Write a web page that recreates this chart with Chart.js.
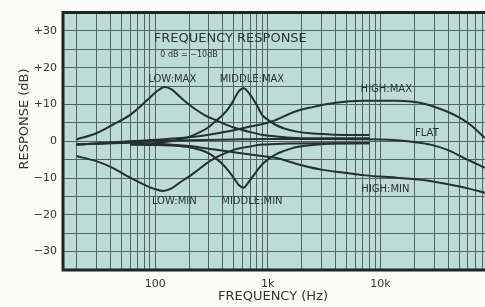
<!DOCTYPE html>
<html>
<head>
<meta charset="utf-8">
<script src="https://cdn.jsdelivr.net/npm/chart.js@4.4.0/dist/chart.umd.min.js"></script>
<style>
  html, body { margin: 0; padding: 0; background: #fbfbf8; }
</style>
</head>
<body>
<canvas id="myChart" width="485" height="307"></canvas>
<script>
// values (Hz, dB)
const lowMaxHz = [20, 30, 42, 60, 85, 100, 122, 140, 166, 200, 233, 280, 342, 420, 515, 700, 890, 1200, 1770, 3000, 8000];
const lowMaxDb = [0.5, 2.2, 4.5, 7.2, 11.2, 13.2, 14.8, 14.1, 12.1, 10.0, 8.5, 7.0, 5.8, 4.6, 3.6, 2.5, 1.8, 1.3, 0.9, 0.8, 0.8];

const lowMinHz = [20, 30, 42, 60, 84, 100, 118, 140, 166, 200, 233, 280, 342, 420, 515, 700, 890, 1500, 3000, 8000];
const lowMinDb = [-4.0, -5.4, -7.2, -9.9, -12.1, -13.0, -13.5, -12.8, -11.2, -9.6, -8.1, -6.2, -4.5, -3.2, -2.2, -1.4, -0.9, -0.6, -0.5, -0.5];

const midMaxHz = [60, 100, 150, 200, 250, 300, 342, 400, 450, 500, 550, 610, 700, 800, 890, 1000, 1170, 1400, 1770, 2500, 4000, 8000];
const midMaxDb = [-0.9, -0.5, 0.2, 1.2, 2.5, 3.9, 5.4, 7.2, 9.0, 11.3, 13.5, 14.4, 12.6, 9.8, 7.2, 5.9, 4.5, 3.5, 2.7, 2.1, 1.8, 1.7];

const midMinHz = [60, 100, 150, 200, 250, 300, 342, 400, 450, 500, 550, 610, 680, 780, 890, 1000, 1170, 1400, 1770, 2500, 4000, 8000];
const midMinDb = [-0.9, -1.0, -1.2, -1.6, -2.3, -3.3, -4.5, -6.3, -8.1, -10.0, -11.8, -12.6, -11.0, -8.5, -6.3, -5.0, -3.6, -2.6, -1.6, -1.0, -0.6, -0.5];

const flatHz = [20, 30, 60, 100, 200, 500, 1000, 3600, 10000, 14000, 20000, 28000, 40000, 55000, 70000, 85000];
const flatDb = [-0.9, -0.6, -0.1, 0.1, 0.3, 0.5, 0.6, 0.6, 0.5, 0.3, -0.2, -0.9, -2.4, -4.5, -6.0, -7.2];

const highMaxHz = [20, 30, 60, 100, 200, 300, 500, 700, 1090, 1760, 2500, 4000, 7100, 14000, 24000, 39000, 50000, 63000, 85000];
const highMaxDb = [-0.9, -0.6, 0.0, 0.4, 1.1, 1.8, 3.0, 4.0, 5.4, 8.1, 9.3, 10.5, 11.0, 11.0, 10.3, 8.1, 6.5, 4.5, 0.9];

const highMinHz = [20, 30, 60, 100, 200, 300, 500, 700, 1000, 1170, 2000, 3000, 5000, 7000, 10000, 14000, 25000, 40000, 60000, 85000];
const highMinDb = [-0.9, -0.7, -0.4, -0.6, -1.3, -2.0, -3.0, -3.6, -4.2, -4.5, -6.5, -7.7, -8.6, -9.2, -9.6, -9.9, -10.6, -11.7, -12.8, -14.0];

// axis
const decades = [10, 100, 1000, 10000];
const gridSteps = [1, 2, 3, 4, 5, 6, 7, 8, 9];
const tickHz = [100, 1000, 10000];
const tickLabels = ['100', '1k', '10k'];

// curve names and where they are written on the sheet
const curveLabels = [
    { text: 'LOW:MAX', hz: 142, db: 16.9 },
    { text: 'MIDDLE:MAX', hz: 724, db: 16.9 },
    { text: 'HIGH:MAX', hz: 11300, db: 14.2 },
    { text: 'FLAT', hz: 25900, db: 2.2 },
    { text: 'HIGH:MIN', hz: 11100, db: -13.0 },
    { text: 'LOW:MIN', hz: 148, db: -16.4 },
    { text: 'MIDDLE:MIN', hz: 724, db: -16.4 }
];

const ink = '#26302f';
const font = '"DejaVu Sans", sans-serif';

function pts(hz, db) {
    return hz.map((f, i) => ({ x: f, y: db[i] }));
}

function curve(hz, db) {
    return {
        data: pts(hz, db),
        borderColor: ink,
        borderWidth: 2,
        pointRadius: 0,
        fill: false,
        cubicInterpolationMode: 'monotone'
    };
}

const gridHz = [];
decades.forEach(d => gridSteps.forEach(s => {
    const f = d * s;
    if (f > 15.2 && f < 85000) gridHz.push(f);
}));

const paper = {
    id: 'paper',
    beforeDraw(chart) {
        const { ctx, chartArea: a } = chart;
        ctx.save();
        ctx.fillStyle = '#fbfbf8';
        ctx.fillRect(0, 0, chart.width, chart.height);
        ctx.fillStyle = '#bddcd5';
        ctx.fillRect(a.left, a.top, a.right - a.left, a.bottom - a.top);
        ctx.restore();
    },
    afterDraw(chart) {
        const { ctx, chartArea: a, scales } = chart;
        ctx.save();
        // frame
        ctx.strokeStyle = '#1e2726';
        ctx.lineWidth = 3;
        ctx.beginPath();
        ctx.moveTo(a.right, a.top);
        ctx.lineTo(a.left, a.top);
        ctx.lineTo(a.left, a.bottom);
        ctx.lineTo(a.right, a.bottom);
        ctx.stroke();

        ctx.fillStyle = '#2b3231';
        ctx.textAlign = 'center';
        ctx.textBaseline = 'middle';

        ctx.font = '13px ' + font;
        ctx.fillText('FREQUENCY RESPONSE', scales.x.getPixelForValue(465), scales.y.getPixelForValue(27.8));
        ctx.font = '8px ' + font;
        ctx.fillText('0 dB = \u221210dB', scales.x.getPixelForValue(200), scales.y.getPixelForValue(23.6));

        ctx.font = '10px ' + font;
        curveLabels.forEach(l => {
            ctx.fillText(l.text, scales.x.getPixelForValue(l.hz), scales.y.getPixelForValue(l.db));
        });

        // axis titles
        ctx.font = '13px ' + font;
        ctx.fillStyle = '#333';
        ctx.fillText('FREQUENCY (Hz)', 273, 297);
        ctx.translate(25, 119);
        ctx.rotate(-Math.PI / 2);
        ctx.fillText('RESPONSE (dB)', 0, 0);
        ctx.restore();
    }
};

const ctx = document.getElementById('myChart').getContext('2d');
const myChart = new Chart(ctx, {
    type: 'line',
    data: {
        datasets: [
            curve(lowMaxHz, lowMaxDb),
            curve(lowMinHz, lowMinDb),
            curve(midMaxHz, midMaxDb),
            curve(midMinHz, midMinDb),
            curve(flatHz, flatDb),
            curve(highMaxHz, highMaxDb),
            curve(highMinHz, highMinDb)
        ]
    },
    options: {
        responsive: false,
        animation: false,
        layout: { padding: { top: 10, right: 0, left: 0, bottom: 0 } },
        plugins: {
            legend: { display: false },
            tooltip: { enabled: false }
        },
        scales: {
            x: {
                type: 'logarithmic',
                min: 15.2,
                max: 85000,
                afterBuildTicks: scale => {
                    scale.ticks = gridHz.map(v => ({ value: v }));
                },
                afterFit: scale => {
                    scale.height = 37;
                    scale.paddingLeft = 0;
                    scale.paddingRight = 0;
                },
                border: { display: false },
                grid: { color: '#52665f', lineWidth: 1, drawTicks: false },
                ticks: {
                    autoSkip: false,
                    maxRotation: 0,
                    padding: 8,
                    color: '#333',
                    font: { family: font, size: 11 },
                    callback: value => {
                        const i = tickHz.indexOf(value);
                        return i >= 0 ? tickLabels[i] : '';
                    }
                }
            },
            y: {
                min: -35,
                max: 35,
                afterFit: scale => { scale.width = 63; },
                border: { display: false },
                grid: { color: '#52665f', lineWidth: 1, drawTicks: false },
                ticks: {
                    stepSize: 5,
                    autoSkip: false,
                    padding: 6,
                    color: '#333',
                    font: { family: font, size: 11 },
                    callback: v => {
                        if (v % 10 !== 0) return '';
                        if (v > 0) return '+' + v;
                        if (v < 0) return '\u2212' + (-v);
                        return '0';
                    }
                }
            }
        }
    },
    plugins: [paper]
});
</script>
</body>
</html>
